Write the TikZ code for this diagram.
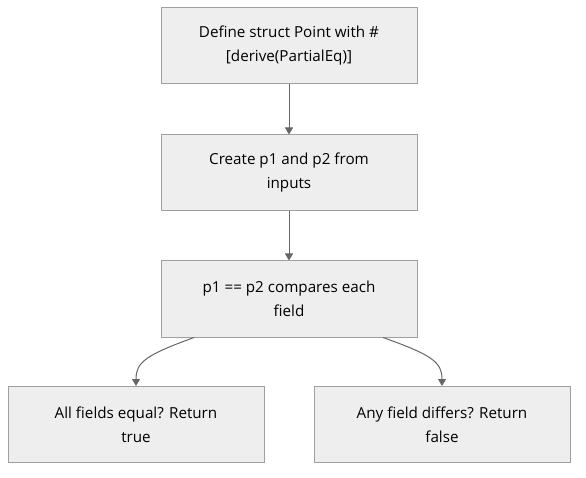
\documentclass[tikz,border=0pt]{standalone}
\usepackage{fontspec}
\setmainfont{Open Sans}
\usetikzlibrary{arrows.meta}
\definecolor{boxfill}{HTML}{EEEEEE}
\definecolor{boxline}{HTML}{A0A0A0}
\definecolor{arrowc}{HTML}{666666}
\tikzset{
  stepbox/.style={draw=boxline, fill=boxfill, line width=1pt, minimum width=256pt, minimum height=76pt, align=center, inner sep=0pt, font=\fontsize{15.2pt}{24pt}\selectfont},
  conn/.style={draw=arrowc, line width=1pt, -{Triangle[length=7pt,width=8pt]}}
}
\begin{document}
\begin{tikzpicture}[x=1pt,y=-1pt]
\useasboundingbox (0,0) rectangle (586,478);
\node[stepbox] (a) at (289,46) {Define struct Point with \#\\{}[derive(PartialEq)]};
\node[stepbox] (b) at (289,173) {Create p1 and p2 from\\inputs};
\node[stepbox] (c) at (289,299) {p1 == p2 compares each\\field};
\node[stepbox] (d) at (136,424.5) {All fields equal? Return\\true};
\node[stepbox] (e) at (442,424.5) {Any field differs? Return\\false};
\draw[conn] (a) -- (b);
\draw[conn] (b) -- (c);
\draw[conn] ([xshift=-95pt]c.south) .. controls (146,355) and (136,362) .. (d.north);
\draw[conn] ([xshift=94pt]c.south) .. controls (432,355) and (442,362) .. (e.north);
\end{tikzpicture}
\end{document}
